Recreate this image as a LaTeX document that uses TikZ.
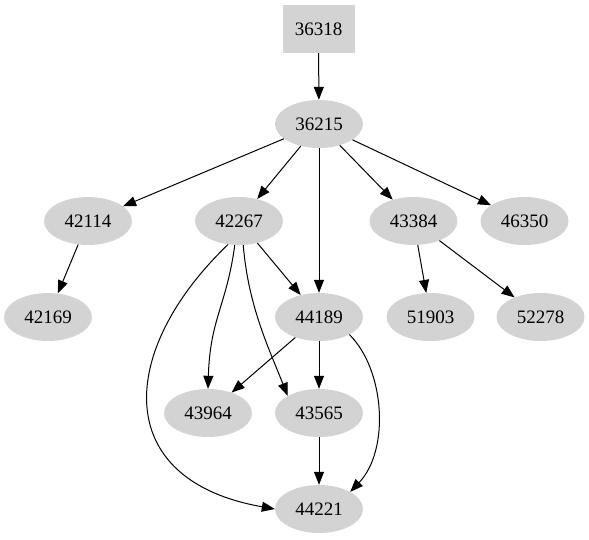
\documentclass[tikz,border=0pt]{standalone}
\usepackage{fontspec}
\setmainfont{Liberation Serif}
\usetikzlibrary{arrows.meta,shapes.geometric}
\definecolor{lgray}{HTML}{D3D3D3}
\begin{document}
\begin{tikzpicture}[x=1pt,y=-1pt,
  every node/.style={font=\fontsize{19}{22}\selectfont, inner sep=0pt},
  ell/.style={ellipse, fill=lgray, minimum width=88pt, minimum height=48pt},
  boxn/.style={rectangle, fill=lgray, minimum width=72pt, minimum height=48pt},
  arr/.style={-{Triangle[length=13pt,width=10pt]}, line width=1pt}]
\useasboundingbox (0,0) rectangle (589,539);
\node[boxn] (n36318) at (318.5,29) {36318};
\node[ell] (n36215) at (319,124) {36215};
\node[ell] (n42114) at (88,221) {42114};
\node[ell] (n42267) at (239,221) {42267};
\node[ell] (n43384) at (413.5,221) {43384};
\node[ell] (n46350) at (524.5,221) {46350};
\node[ell] (n42169) at (48,317) {42169};
\node[ell] (n44189) at (319,317) {44189};
\node[ell] (n51903) at (430.5,317) {51903};
\node[ell] (n52278) at (540.5,317) {52278};
\node[ell] (n43964) at (208,413) {43964};
\node[ell] (n43565) at (319,413) {43565};
\node[ell] (n44221) at (319,509) {44221};
\draw[arr] (n36318) -- (n36215);
\draw[arr] (n36215) -- (n42114);
\draw[arr] (n36215) -- (n42267);
\draw[arr] (n36215) -- (n44189);
\draw[arr] (n36215) -- (n43384);
\draw[arr] (n36215) -- (n46350);
\draw[arr] (n42114) -- (n42169);
\draw[arr] (n42267) -- (n44189);
\draw[arr] (n43384) -- (n51903);
\draw[arr] (n43384) -- (n52278);
\draw[arr] (n44189) -- (n43964);
\draw[arr] (n44189) -- (n43565);
\draw[arr] (n43565) -- (n44221);
\draw[arr] (n42267.-100) .. controls +(-8,60) and +(2,-70) .. (n43964.north);
\draw[arr] (n42267.-80) .. controls +(5,60) and +(-20,-50) .. (n43565.north west);
\draw[arr] (n42267.-115) .. controls (118,350) and (110,480) .. (n44221.west);
\draw[arr] (n44189.-30) .. controls (385,370) and (390,450) .. (n44221.north east);
\end{tikzpicture}
\end{document}
